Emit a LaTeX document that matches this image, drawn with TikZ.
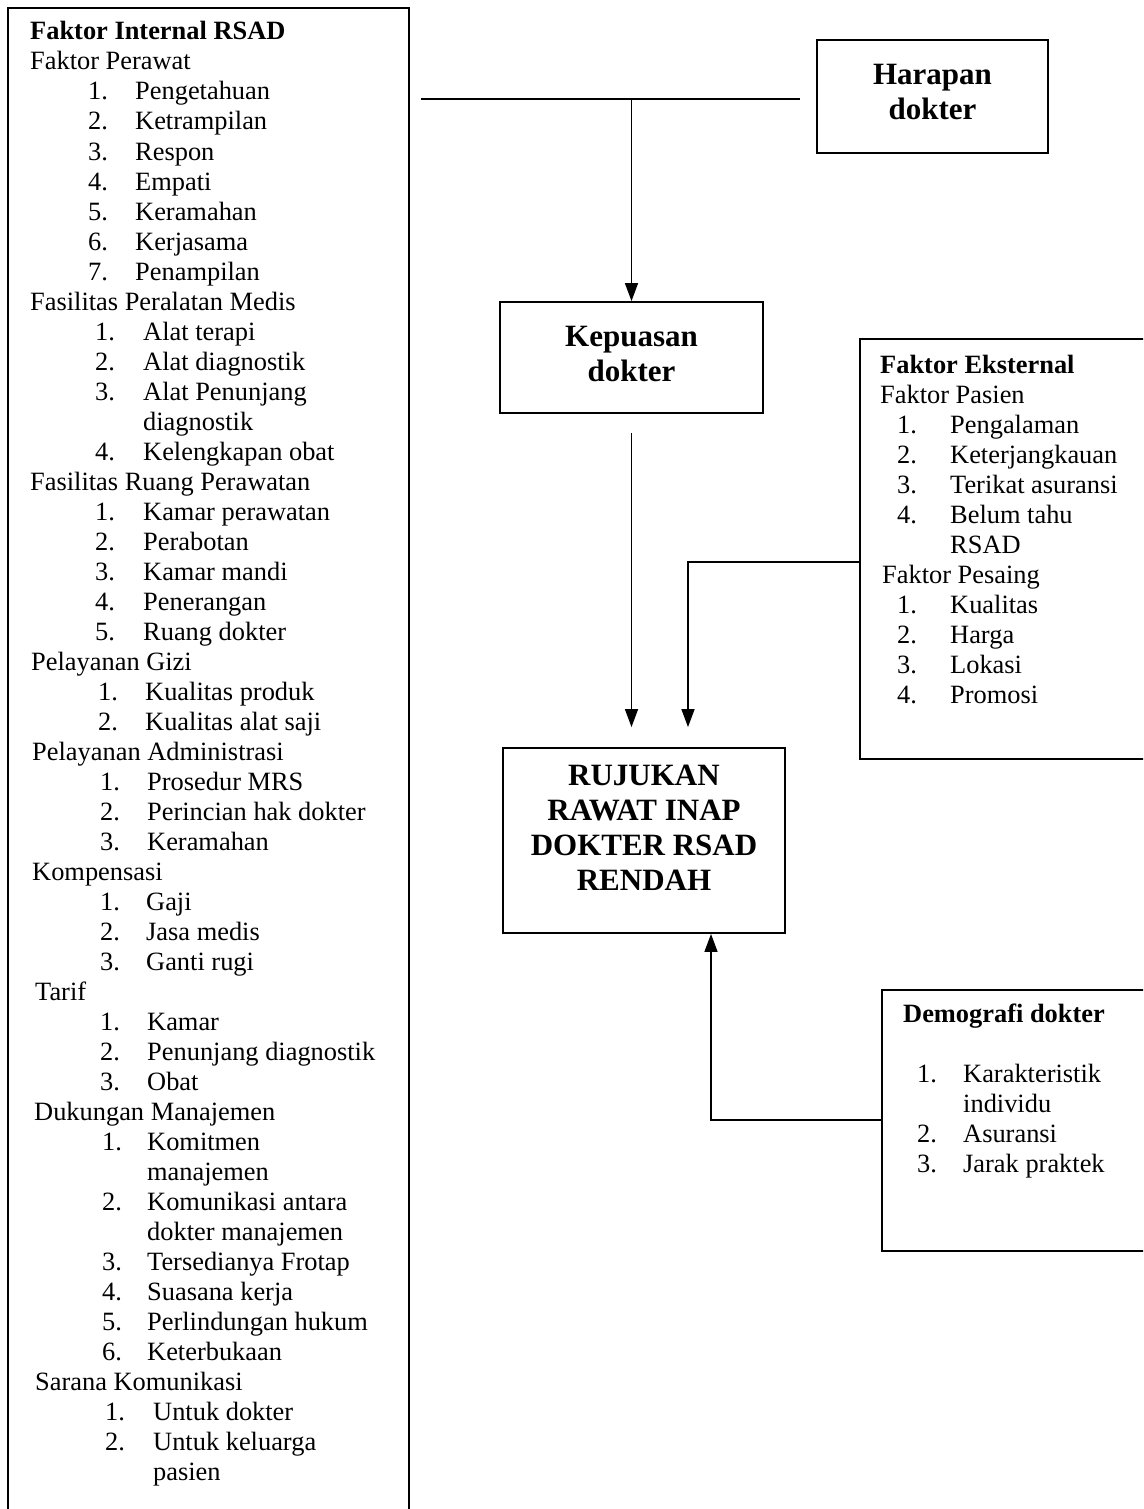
\documentclass[tikz,border=0pt]{standalone}
\usepackage{fontspec}
\setmainfont{Liberation Serif}
\usetikzlibrary{arrows.meta}

\begin{document}
\begin{tikzpicture}[x=1pt,y=-1pt,
 lst/.style={draw,line width=1.8pt,anchor=north west,inner sep=0pt},
 ttl/.style={draw,line width=1.8pt,align=center,font=\fontsize{31}{35}\selectfont\bfseries},
 ar/.style={-{Triangle[length=18pt,width=13pt]},line width=1.4pt},
 ln/.style={line width=1.4pt},
 hd/.style={anchor=base west,inner sep=0pt,font=\fontsize{26.4}{30}\selectfont\bfseries},
 grp/.style={anchor=base west,inner sep=0pt,font=\fontsize{26.4}{30}\selectfont},
 num/.style={grp},
 itm/.style={grp}]
\useasboundingbox (0,0) rectangle (1143,1509);
\clip (0,0) rectangle (1143,1509);
% left column: internal factors
\node[lst,minimum width=401pt,minimum height=1540pt] (intl) at (7,7) {};
\node[hd] (intl-t) at (30,40) {Faktor Internal RSAD};
\node[grp] (perawat) at (30,70) {Faktor Perawat};
\foreach \t [count=\i] in {Pengetahuan,Ketrampilan,Respon,Empati,Keramahan,Kerjasama,Penampilan}
 {\node[num] (pw-n\i) at (88,70+30*\i) {\i.}; \node[itm] (pw-\i) at (135,70+30*\i) {\t};}
\node[grp] (alat) at (30,310) {Fasilitas Peralatan Medis};
\foreach \k/\n/\t in {10/1./Alat terapi,11/2./Alat diagnostik,12/3./Alat Penunjang,13//diagnostik,14/4./Kelengkapan obat}
 {\node[num] (al-n\k) at (95,40+30*\k) {\n}; \node[itm] (al-\k) at (143,40+30*\k) {\t};}
\node[grp] (ruang) at (30,490) {Fasilitas Ruang Perawatan};
\foreach \t [count=\i] in {Kamar perawatan,Perabotan,Kamar mandi,Penerangan,Ruang dokter}
 {\node[num] (rg-n\i) at (95,490+30*\i) {\i.}; \node[itm] (rg-\i) at (143,490+30*\i) {\t};}
\node[grp] (gizi) at (31,670) {Pelayanan Gizi};
\foreach \t [count=\i] in {Kualitas produk,Kualitas alat saji}
 {\node[num] (gz-n\i) at (98,670+30*\i) {\i.}; \node[itm] (gz-\i) at (145,670+30*\i) {\t};}
\node[grp] (admin) at (32,760) {Pelayanan Administrasi};
\foreach \t [count=\i] in {Prosedur MRS,Perincian hak dokter,Keramahan}
 {\node[num] (ad-n\i) at (100,760+30*\i) {\i.}; \node[itm] (ad-\i) at (147,760+30*\i) {\t};}
\node[grp] (komp) at (32,880) {Kompensasi};
\foreach \t [count=\i] in {Gaji,Jasa medis,Ganti rugi}
 {\node[num] (kp-n\i) at (100,880+30*\i) {\i.}; \node[itm] (kp-\i) at (146,880+30*\i) {\t};}
\node[grp] (tarif) at (35,1000) {Tarif};
\foreach \t [count=\i] in {Kamar,Penunjang diagnostik,Obat}
 {\node[num] (tf-n\i) at (100,1000+30*\i) {\i.}; \node[itm] (tf-\i) at (147,1000+30*\i) {\t};}
\node[grp] (dukung) at (34,1120) {Dukungan Manajemen};
\foreach \k/\n/\t in {37/1./Komitmen,38//manajemen,39/2./Komunikasi antara,40//dokter manajemen,
 41/3./Tersedianya Frotap,42/4./Suasana kerja,43/5./Perlindungan hukum,44/6./Keterbukaan}
 {\node[num] (dk-n\k) at (102,40+30*\k) {\n}; \node[itm] (dk-\k) at (147,40+30*\k) {\t};}
\node[grp] (sarana) at (35,1390) {Sarana Komunikasi};
\foreach \k/\n/\t in {46/1./Untuk dokter,47/2./Untuk keluarga,48//pasien}
 {\node[num] (sr-n\k) at (105,40+30*\k) {\n}; \node[itm] (sr-\k) at (153,40+30*\k) {\t};}
% external factors
\node[lst,minimum width=320pt,minimum height=420pt] (eks) at (859,338) {};
\node[hd] (eks-t) at (880,373) {Faktor Eksternal};
\node[grp] (pasien) at (880,403) {Faktor Pasien};
\foreach \k/\n/\t in {0/1./Pengalaman,1/2./Keterjangkauan,2/3./Terikat asuransi,3/4./Belum tahu,4//RSAD}
 {\node[num] (ps-n\k) at (897,433+30*\k) {\n}; \node[itm] (ps-\k) at (950,433+30*\k) {\t};}
\node[grp] (pesaing) at (882,583) {Faktor Pesaing};
\foreach \t [count=\i] in {Kualitas,Harga,Lokasi,Promosi}
 {\node[num] (pg-n\i) at (897,583+30*\i) {\i.}; \node[itm] (pg-\i) at (950,583+30*\i) {\t};}
% demography
\node[lst,minimum width=300pt,minimum height=261pt] (dem) at (881,989) {};
\node[hd] (dem-t) at (903,1022) {Demografi dokter};
\foreach \k/\n/\t in {0/1./Karakteristik,1//individu,2/2./Asuransi,3/3./Jarak praktek}
 {\node[num] (dm-n\k) at (917,1082+30*\k) {\n}; \node[itm] (dm-\k) at (963,1082+30*\k) {\t};}
% centre boxes
\node[ttl,minimum width=231pt,minimum height=113pt,text depth=9pt] (harapan) at (932.5,96.5) {Harapan\\dokter};
\node[ttl,minimum width=263pt,minimum height=111pt,text depth=8pt] (kepuasan) at (631.5,357.5) {Kepuasan\\dokter};
\node[ttl,minimum width=282pt,minimum height=185pt,text depth=26pt] (rujukan) at (644,840.5) {RUJUKAN\\RAWAT INAP\\DOKTER RSAD\\RENDAH};
% connectors
\coordinate (hl) at (421,99);
\coordinate (hr) at (800,99);
\draw[ln] (hl) -- (hr);
\draw[ar] (kepuasan.north |- hl) -- (kepuasan.north);
\draw[ar,shorten <=19pt,shorten >=20pt] (kepuasan.south) -- (kepuasan.south |- rujukan.north);
\coordinate (ebend) at (688,562);
\draw[ar,shorten >=20pt] (eks.west |- ebend) -- (ebend) -- (ebend |- rujukan.north);
\coordinate (dbend) at (711,1120);
\draw[ar] (dem.west |- dbend) -- (dbend) -- (dbend |- rujukan.south);
\end{tikzpicture}
\end{document}
